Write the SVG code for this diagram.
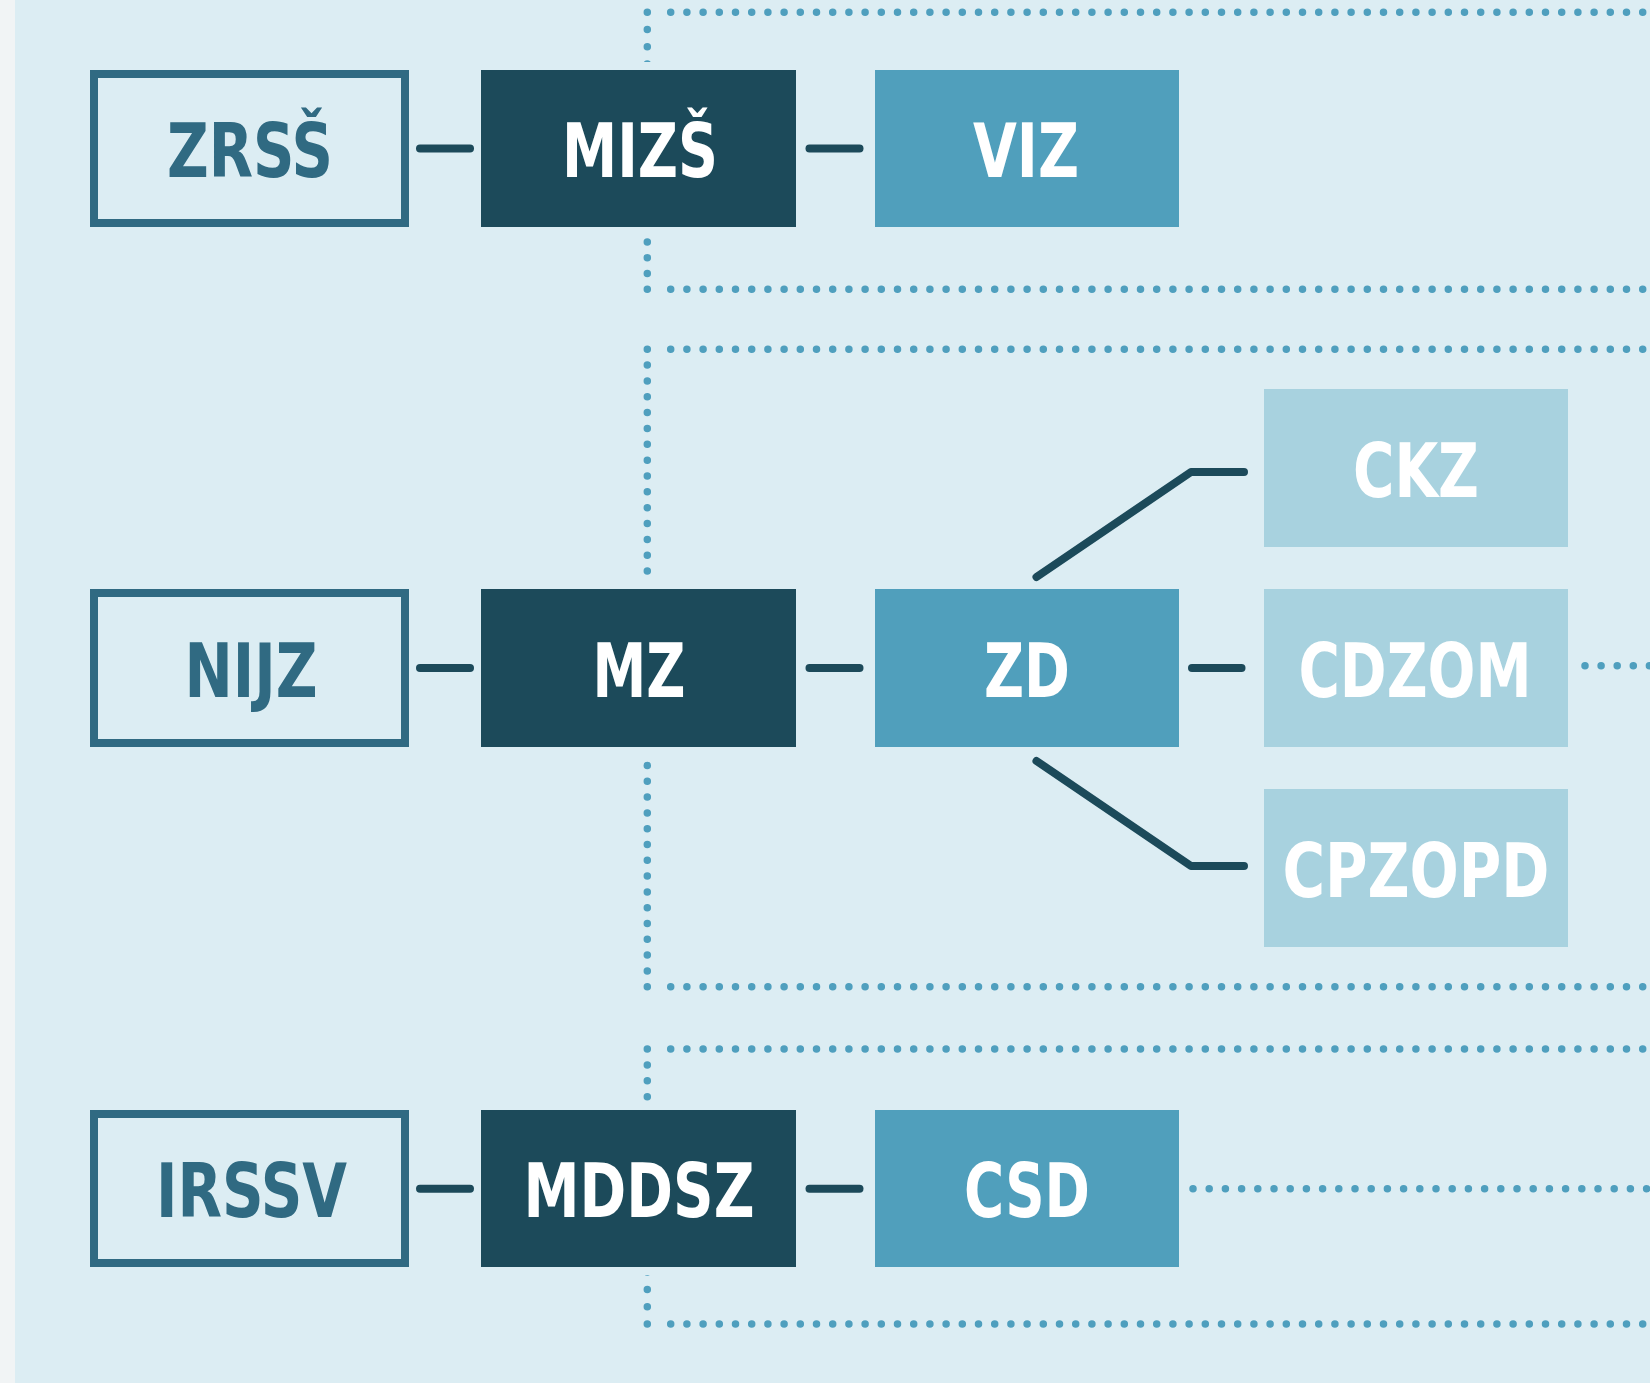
<svg xmlns="http://www.w3.org/2000/svg" width="1650" height="1383" viewBox="0 0 1650 1383">
<style>
.dots{stroke:#4f9fbe;stroke-width:7.5;stroke-linecap:round;fill:none}
.con{stroke:#1c4a5a;stroke-width:8;stroke-linecap:round;stroke-linejoin:round;fill:none}
.outline{fill:#dcedf3;stroke:#306a82;stroke-width:8}
.dark{fill:#1c4a5a;stroke:#dcedf3;stroke-width:16;paint-order:stroke}
.mid{fill:#509fbc}
.light{fill:#a8d2df}
text{font-family:"Liberation Sans Narrow","DejaVu Sans Condensed","DejaVu Sans",sans-serif;font-weight:bold;font-size:74px;text-anchor:middle}
.t1{fill:#306a82}
.tw{fill:#ffffff}
</style>
<rect x="0" y="0" width="1650" height="1383" fill="#dcedf3"/>
<rect x="0" y="0" width="15" height="1383" fill="#f1f4f5"/>
<g id="dotted">
<line class="dots" x1="670.7" y1="12.3" x2="1650" y2="12.3" stroke-dasharray="0 16.2"/>
<line class="dots" x1="647.3" y1="12.3" x2="647.3" y2="65" stroke-dasharray="0 17.2"/>
<line class="dots" x1="647.3" y1="289.3" x2="647.3" y2="220" stroke-dasharray="0 15.8"/>
<line class="dots" x1="670.7" y1="289.3" x2="1650" y2="289.3" stroke-dasharray="0 16.2"/>
<line class="dots" x1="670.7" y1="349.2" x2="1650" y2="349.2" stroke-dasharray="0 16.2"/>
<line class="dots" x1="647.3" y1="349.2" x2="647.3" y2="572" stroke-dasharray="0 15.85"/>
<line class="dots" x1="647.3" y1="986.7" x2="647.3" y2="765" stroke-dasharray="0 15.8"/>
<line class="dots" x1="670.7" y1="986.7" x2="1650" y2="986.7" stroke-dasharray="0 16.2"/>
<line class="dots" x1="1585" y1="665.7" x2="1650" y2="665.7" stroke-dasharray="0 16.1"/>
<line class="dots" x1="670.7" y1="1049" x2="1650" y2="1049" stroke-dasharray="0 16.2"/>
<line class="dots" x1="647.3" y1="1049" x2="647.3" y2="1113" stroke-dasharray="0 15.9"/>
<line class="dots" x1="647.3" y1="1324" x2="647.3" y2="1270" stroke-dasharray="0 17.3"/>
<line class="dots" x1="670.7" y1="1324" x2="1650" y2="1324" stroke-dasharray="0 16.2"/>
<line class="dots" x1="1193" y1="1188.7" x2="1650" y2="1188.7" stroke-dasharray="0 16.2"/>
</g>
<g id="n-zrss"><rect class="outline" x="94" y="74" width="311" height="149"/><text class="t1" x="250" y="176.5" textLength="166" lengthAdjust="spacingAndGlyphs">ZRSŠ</text></g>
<g id="n-mizs"><rect class="dark" x="481" y="70" width="315" height="157"/><text class="tw" x="640" y="176.5" textLength="156" lengthAdjust="spacingAndGlyphs">MIZŠ</text></g>
<g id="n-viz"><rect class="mid" x="875" y="70" width="304" height="157"/><text class="tw" x="1026" y="176.5" textLength="106" lengthAdjust="spacingAndGlyphs">VIZ</text></g>
<g id="n-nijz"><rect class="outline" x="94" y="593" width="311" height="150"/><text class="t1" x="251" y="696.5" textLength="133" lengthAdjust="spacingAndGlyphs">NIJZ</text></g>
<g id="n-mz"><rect class="dark" x="481" y="589" width="315" height="158"/><text class="tw" x="639" y="696.5" textLength="93" lengthAdjust="spacingAndGlyphs">MZ</text></g>
<g id="n-zd"><rect class="mid" x="875" y="589" width="304" height="158"/><text class="tw" x="1027" y="696.5" textLength="86" lengthAdjust="spacingAndGlyphs">ZD</text></g>
<g id="n-ckz"><rect class="light" x="1264" y="389" width="304" height="158"/><text class="tw" x="1416" y="496.5" textLength="126" lengthAdjust="spacingAndGlyphs">CKZ</text></g>
<g id="n-cdzom"><rect class="light" x="1264" y="589" width="304" height="158"/><text class="tw" x="1415" y="696.5" textLength="233" lengthAdjust="spacingAndGlyphs">CDZOM</text></g>
<g id="n-cpzopd"><rect class="light" x="1264" y="789" width="304" height="158"/><text class="tw" x="1416" y="897" textLength="267" lengthAdjust="spacingAndGlyphs">CPZOPD</text></g>
<g id="n-irssv"><rect class="outline" x="94" y="1114" width="311" height="149"/><text class="t1" x="251.5" y="1216.7" textLength="191" lengthAdjust="spacingAndGlyphs">IRSSV</text></g>
<g id="n-mddsz"><rect class="dark" x="481" y="1110" width="315" height="157"/><text class="tw" x="639" y="1216.7" textLength="231" lengthAdjust="spacingAndGlyphs">MDDSZ</text></g>
<g id="n-csd"><rect class="mid" x="875" y="1110" width="304" height="157"/><text class="tw" x="1027" y="1216.7" textLength="126" lengthAdjust="spacingAndGlyphs">CSD</text></g>
<g id="connectors">
<line class="con" x1="420" y1="148.5" x2="470" y2="148.5"/>
<line class="con" x1="809.5" y1="148.5" x2="859.5" y2="148.5"/>
<line class="con" x1="420" y1="668" x2="470" y2="668"/>
<line class="con" x1="809.5" y1="668" x2="859.5" y2="668"/>
<line class="con" x1="1192" y1="668" x2="1241.5" y2="668"/>
<polyline class="con" points="1036.5,577 1191,472 1244,472"/>
<polyline class="con" points="1036.5,761 1191,866 1244,866"/>
<line class="con" x1="420" y1="1188.7" x2="470" y2="1188.7"/>
<line class="con" x1="809.5" y1="1188.7" x2="859.5" y2="1188.7"/>
</g>
</svg>
